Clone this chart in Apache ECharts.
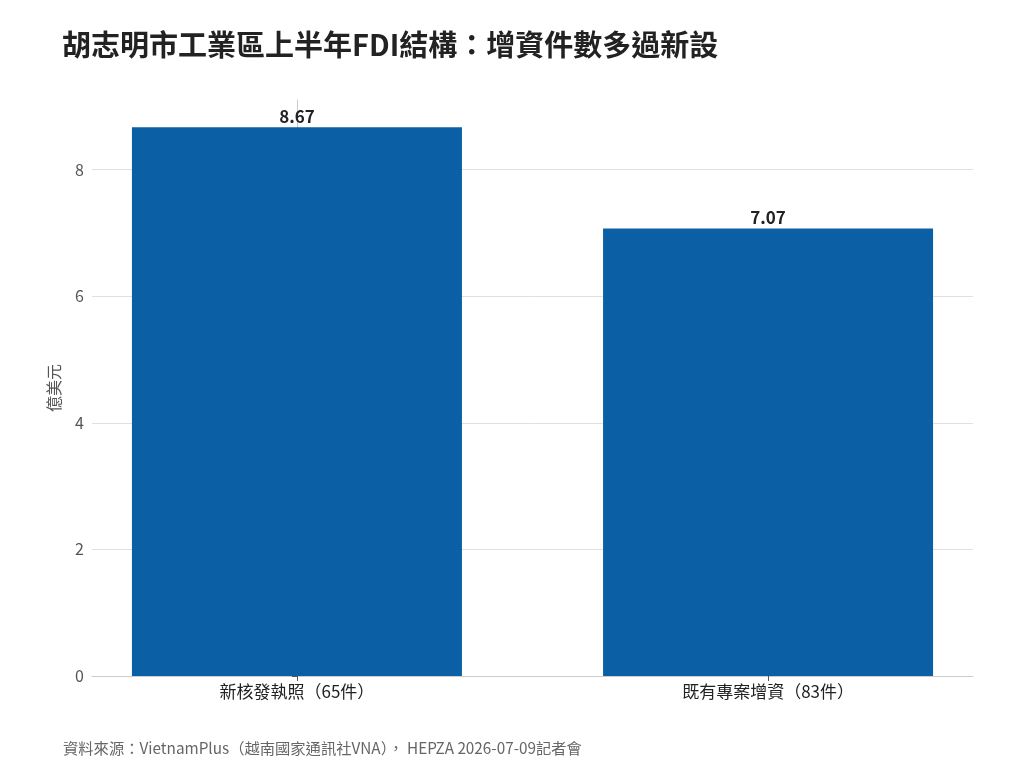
<!DOCTYPE html>
<html>
<head>
<meta charset="utf-8">
<script src="https://cdn.jsdelivr.net/npm/echarts@6/dist/echarts.min.js"></script>
<style>
  html, body { margin: 0; padding: 0; background: #fff; }
  #vis { width: 1024px; height: 768px; }
</style>
</head>
<body>
<div id="vis"></div>
<script>
const categories = ['新核發執照（65件）', '既有專案增資（83件）']
const values = [8.67, 7.07]
const yTicks = [0, 2, 4, 6, 8]

const font = '"Noto Sans CJK TC", "Noto Sans", sans-serif'
const chart = echarts.init(document.getElementById('vis'), null, { renderer: 'canvas' })

// bars sit at positions 0 and 1 on a value axis padded on both sides
const barData = values.map((v, i) => [i, v])
const catIdx = categories.map((c, i) => i)

chart.setOption({
  backgroundColor: '#ffffff',
  textStyle: { fontFamily: font },
  title: [
    {
      text: '胡志明市工業區上半年FDI結構：增資件數多過新設',
      left: 57,
      top: 25,
      textStyle: { fontFamily: font, fontSize: 29, fontWeight: 'bold', color: '#222222' }
    },
    {
      text: '資料來源：VietnamPlus（越南國家通訊社VNA）， HEPZA 2026-07-09記者會',
      left: 58,
      top: 736,
      textStyle: { fontFamily: font, fontSize: 15.3, fontWeight: 'normal', color: '#666666' }
    }
  ],
  grid: { left: 92, right: 51, top: 100, bottom: 92 },
  xAxis: {
    type: 'value',
    min: -0.435,
    max: 1.435,
    axisLine: { show: true, lineStyle: { color: '#cccccc' } },
    axisTick: { show: true, customValues: catIdx, length: 5, lineStyle: { color: '#555555' } },
    axisLabel: {
      customValues: catIdx,
      fontFamily: font,
      fontSize: 17,
      color: '#222222',
      margin: 7,
      formatter: (v) => categories[Math.round(v)] || ''
    },
    splitLine: { show: false }
  },
  yAxis: {
    type: 'value',
    min: 0,
    max: 9.1,
    interval: 2,
    name: '億美元',
    nameLocation: 'middle',
    nameGap: 30,
    nameRotate: 90,
    nameTextStyle: { fontFamily: font, fontSize: 16, color: '#555555' },
    axisLine: { show: true, lineStyle: { color: '#cccccc' } },
    axisTick: { show: true, customValues: yTicks, length: 5, lineStyle: { color: '#555555' } },
    axisLabel: {
      customValues: yTicks,
      fontFamily: font,
      fontSize: 16,
      color: '#555555',
      margin: 8
    },
    splitLine: { lineStyle: { color: '#e0e0e0' } }
  },
  series: [
    {
      type: 'bar',
      data: barData,
      barWidth: 330,
      itemStyle: { color: '#0b5fa5' },
      label: {
        show: true,
        position: 'top',
        distance: 2,
        fontFamily: font,
        fontSize: 17,
        fontWeight: 'bold',
        color: '#222222',
        formatter: (p) => p.value[1].toFixed(2)
      }
    }
  ]
})
</script>
</body>
</html>
